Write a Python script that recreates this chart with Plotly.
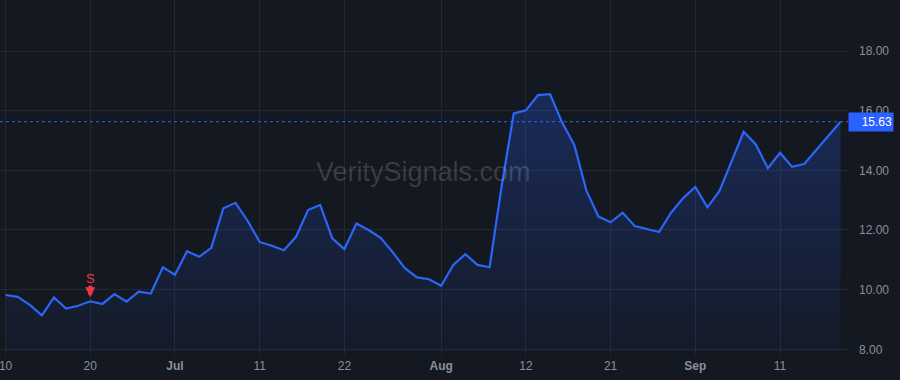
import plotly.graph_objects as go

dates = [
    "2025-06-10", "2025-06-11", "2025-06-12", "2025-06-13", "2025-06-16", "2025-06-17",
    "2025-06-18", "2025-06-20", "2025-06-23", "2025-06-24", "2025-06-25", "2025-06-26",
    "2025-06-27", "2025-06-30",
    "2025-07-01", "2025-07-02", "2025-07-03", "2025-07-07", "2025-07-08", "2025-07-09",
    "2025-07-10", "2025-07-11", "2025-07-14", "2025-07-15", "2025-07-16", "2025-07-17",
    "2025-07-18", "2025-07-21", "2025-07-22", "2025-07-23", "2025-07-24", "2025-07-25",
    "2025-07-28", "2025-07-29", "2025-07-30", "2025-07-31",
    "2025-08-01", "2025-08-04", "2025-08-05", "2025-08-06", "2025-08-07", "2025-08-08",
    "2025-08-11", "2025-08-12", "2025-08-13", "2025-08-14", "2025-08-15", "2025-08-18",
    "2025-08-19", "2025-08-20", "2025-08-21", "2025-08-22", "2025-08-25", "2025-08-26",
    "2025-08-27", "2025-08-28", "2025-08-29",
    "2025-09-02", "2025-09-03", "2025-09-04", "2025-09-05", "2025-09-08", "2025-09-09",
    "2025-09-10", "2025-09-11", "2025-09-12", "2025-09-15", "2025-09-16", "2025-09-17",
    "2025-09-18",
]

prices = [
    9.82, 9.76, 9.49, 9.14, 9.74, 9.37, 9.46, 9.61, 9.52, 9.85, 9.60, 9.93, 9.87, 10.75,
    10.50, 11.29, 11.10, 11.40, 12.73, 12.91, 12.31, 11.60, 11.47, 11.32, 11.77, 12.67,
    12.84, 11.72, 11.36, 12.22, 12.00, 11.74, 11.25, 10.72, 10.41, 10.35,
    10.13, 10.83, 11.19, 10.83, 10.75, 13.48, 15.91, 16.01, 16.52, 16.55, 15.60, 14.85,
    13.32, 12.45, 12.26, 12.58, 12.13, 12.04, 11.93, 12.58, 13.07,
    13.44, 12.76, 13.31, 14.29, 15.29, 14.87, 14.07, 14.59, 14.12, 14.21, 14.68, 15.13,
    15.63,
]

tick_dates = ["2025-06-10", "2025-06-20", "2025-07-01", "2025-07-11", "2025-07-22",
              "2025-08-01", "2025-08-12", "2025-08-21", "2025-09-02", "2025-09-11"]
tick_text = ["10", "20", "<b>Jul</b>", "11", "22", "<b>Aug</b>", "12", "21", "<b>Sep</b>", "11"]

y_ticks = [8, 10, 12, 14, 16, 18]

signal_date = "2025-06-20"
signal_label = "S"
watermark = "VeritySignals.com"

BG = "#141821"
GRID = "#232834"
TEXT = "#8b8f9a"
LINE = "#2b66f6"
RED = "#f23645"
FONT = "Liberation Sans, Arial, sans-serif"

fig = go.Figure()

fig.add_trace(go.Scatter(
    x=dates, y=prices, mode="lines",
    line=dict(color=LINE, width=2.2),
    fill="tozeroy",
    fillgradient=dict(
        type="vertical", start=7.9, stop=16.6,
        colorscale=[[0, "rgba(41,98,255,0.03)"], [1, "rgba(41,98,255,0.26)"]],
    ),
    hoverinfo="skip", showlegend=False,
))

last = prices[-1]
fig.add_hline(y=last, line=dict(color=LINE, width=1, dash="dot"))

fig.add_annotation(
    x=1, xref="paper", y=last, yref="y", xanchor="left", yanchor="middle",
    text=f"{last:.2f}", showarrow=False, width=42, height=16, align="right",
    bgcolor="#2962ff", borderpad=1, font=dict(color="#ffffff", size=12, family=FONT),
)

sig_idx = dates.index(signal_date)
# arrow
fig.add_annotation(
    x=signal_date, y=prices[sig_idx], text="",
    showarrow=True, ax=0, ay=-17, arrowhead=2, arrowsize=0.5, arrowwidth=4,
    arrowcolor=RED, standoff=4,
)
# label
fig.add_annotation(
    x=signal_date, y=prices[sig_idx], text=signal_label, showarrow=False,
    yshift=23, font=dict(color=RED, size=13, family=FONT),
)

fig.add_annotation(
    x=0.499, y=0.511, xref="paper", yref="paper", text=watermark, showarrow=False,
    font=dict(size=27, color="rgba(255,255,255,0.16)", family=FONT),
)

fig.update_layout(
    width=900, height=380,
    margin=dict(l=0, r=52, t=0, b=28),
    paper_bgcolor=BG, plot_bgcolor=BG,
    font=dict(family=FONT, color=TEXT, size=12),
    xaxis=dict(
        type="category", range=[-0.46, 69.62],
        tickmode="array", tickvals=tick_dates, ticktext=tick_text,
        showgrid=True, gridcolor=GRID, gridwidth=1,
        ticks="outside", ticklen=3, tickcolor=GRID,
        showline=False, zeroline=False,
        ticklabeloverflow="allow",
        tickfont=dict(size=12, color=TEXT),
    ),
    yaxis=dict(
        side="right", range=[7.91, 19.71],
        tickmode="array", tickvals=y_ticks, ticktext=[f"{v:.2f}" for v in y_ticks],
        showgrid=True, gridcolor=GRID, gridwidth=1, zeroline=False, showline=False,
        ticklabelstandoff=10,
        tickfont=dict(size=12, color=TEXT),
    ),
)

fig.write_html("out.html")
